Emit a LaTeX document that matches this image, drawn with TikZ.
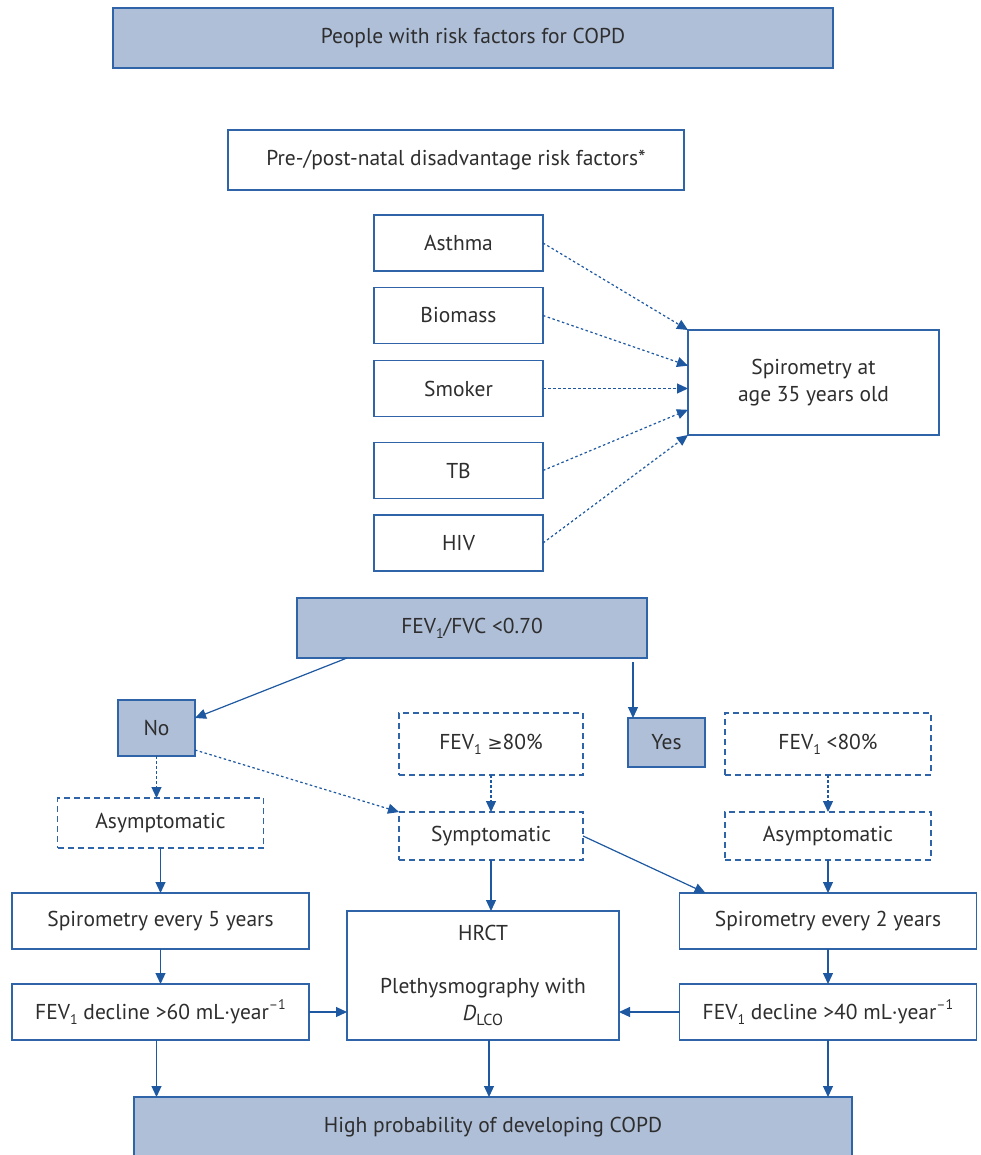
\documentclass[tikz,border=0pt]{standalone}
\usepackage{fontspec}
\setmainfont{PT Sans}
\newfontfamily\symfont{DejaVu Sans}
\usetikzlibrary{arrows.meta, positioning, calc, graphs}
\definecolor{copdline}{HTML}{2F64A8}
\definecolor{copdfill}{HTML}{AFBFD8}
\definecolor{copdarrow}{HTML}{1D58A0}
\definecolor{copdtext}{HTML}{2E2E2E}
\newcommand{\lowsub}[1]{\raisebox{-0.45ex}{\fontsize{14}{14}\selectfont #1}}
\newcommand{\upsup}[1]{\raisebox{0.9ex}{\fontsize{14}{14}\selectfont #1}}
\tikzset{
>={Triangle[length=11pt,width=10pt]},
wh/.style 2 args={minimum width=#1pt, minimum height=#2pt},
box/.style={%
    rectangle,
    draw=copdline,
    line width=1.3pt,
    text=copdtext,
    inner sep=0pt,
    outer sep=0pt,
    align=center,
    % Font
    font=\fontsize{21.5}{26.5}\selectfont
},
shaded/.style={box, fill=copdfill},
dashbox/.style={box, dash pattern=on 6pt off 4pt},
link/.style={->, draw=copdarrow, line width=1.2pt},
dotlink/.style={link, dash pattern=on 2.5pt off 2.5pt},
}

\begin{document}
\begin{tikzpicture}[x=1pt,y=-1pt]
\fill[white] (0,0) rectangle (981,1155);
\useasboundingbox (0,0) rectangle (981,1155);

\node[shaded,wh={720}{60}] (risk) at (473,38) {People with risk factors for COPD};
\node[box,wh={456}{60}] (natal) at (456,160) {Pre-/post-natal disadvantage risk factors*};
\node[box,wh={169}{56}] (asthma) at (458.5,243) {Asthma};
\node[box,wh={169}{56}] (biomass) at (458.5,315.5) {Biomass};
\node[box,wh={169}{56}] (smoker) at (458.5,388.5) {Smoker};
\node[box,wh={169}{56}] (tb) at (458.5,470.5) {TB};
\node[box,wh={169}{56}] (hiv) at (458.5,543) {HIV};
\node[box,wh={251}{105}] (spiro35) at (813.5,382.5) {Spirometry at\\age 35 years old};

\node[shaded,wh={350}{60}] (ratio) at (472,628) {FEV\lowsub{1}/FVC <0.70};
\node[shaded,wh={77}{56}] (no) at (156.5,728) {No};
\node[shaded,wh={77}{49}] (yes) at (666.5,742.5) {Yes};
\node[dashbox,wh={184}{62}] (ge80) at (491,744) {FEV\lowsub{1} {\symfont\fontsize{18}{18}\selectfont ≥}80\%};
\node[dashbox,wh={206}{62}] (lt80) at (828,744) {FEV\lowsub{1} <80\%};
\node[dashbox,wh={206}{50}] (asymL) at (160.5,823) {Asymptomatic};
\node[dashbox,wh={184}{48}] (sympt) at (491,836) {Symptomatic};
\node[dashbox,wh={206}{48}] (asymR) at (828,836) {Asymptomatic};

\node[box,wh={297}{56}] (spiro5) at (160.5,921) {Spirometry every 5 years};
\node[box,wh={272}{129}] (hrct) at (483,975.5) {HRCT\\[26.5pt]Plethysmography with\\\textit{D}\raisebox{-0.45ex}{\fontsize{16}{16}\selectfont LCO}};
\node[box,wh={297}{56}] (spiro2) at (828,921) {Spirometry every 2 years};
\node[box,wh={297}{56}] (decl60) at (160.5,1012) {FEV\lowsub{1} decline >60 mL·year\upsup{–1}};
\node[box,wh={297}{56}] (decl40) at (828,1012) {FEV\lowsub{1} decline >40 mL·year\upsup{–1}};
\node[shaded,wh={718}{60}] (high) at (493,1127) {High probability of developing COPD};

% risk factors into spirometry
\draw[dotlink] (asthma.east) -- (spiro35.north west);
\draw[dotlink] (biomass.east) -- ($(spiro35.north west)!0.34!(spiro35.south west)$);
\draw[dotlink] (smoker.east) -- (smoker.east -| spiro35.west);
\draw[dotlink] (tb.east) -- ($(spiro35.north west)!0.76!(spiro35.south west)$);
\draw[dotlink] (hiv.east) -- (spiro35.south west);

% ratio split
\draw[link] ($(ratio.south west)+(50,0)$) -- ($(no.east)+(0,-10)$);
\draw[link] ($(ratio.south east)+(-14,4)$) -- ($(yes.north west)+(5,0)$);
\draw[dotlink] (no.south) -- (no.south |- asymL.north);
\draw[dotlink] ($(no.south east)+(0,-6)$) -- (sympt.north west);
\draw[link] (sympt.east) -- ($(spiro2.north west)+(26,0)$);
\draw[link] (sympt.south) -- (sympt.south |- hrct.north);

\graph [use existing nodes, edges={draw=copdarrow, line width=1.2pt}] {
asymL -> spiro5 -> decl60;
asymR -> spiro2 -> decl40;
ge80 ->[dash pattern=on 2.5pt off 2.5pt] sympt;
lt80 ->[dash pattern=on 2.5pt off 2.5pt] asymR;
};

% into hrct and the outcome
\draw[link] (decl60.east) -- (decl60.east -| hrct.west);
\draw[link] (decl40.west) -- (decl40.west -| hrct.east);
\draw[link] ($(decl60.south)+(-4,0)$) -- ($(decl60.south |- high.north)+(-4,0)$);
\draw[link] ($(hrct.south)+(6,0)$) -- ($(hrct.south |- high.north)+(6,0)$);
\draw[link] (decl40.south) -- (decl40.south |- high.north);

\end{tikzpicture}
\end{document}
